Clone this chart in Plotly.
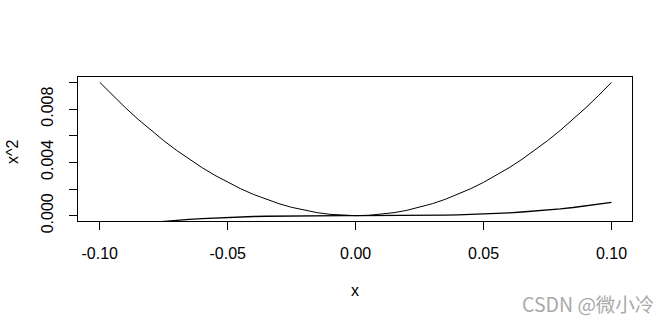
import plotly.graph_objects as go

x_vals = [-0.1, -0.095, -0.09, -0.085, -0.08, -0.075, -0.07, -0.065, -0.06, -0.055,
          -0.05, -0.045, -0.04, -0.035, -0.03, -0.025, -0.02, -0.015, -0.01, -0.005,
          0.0, 0.005, 0.01, 0.015, 0.02, 0.025, 0.03, 0.035, 0.04, 0.045,
          0.05, 0.055, 0.06, 0.065, 0.07, 0.075, 0.08, 0.085, 0.09, 0.095, 0.1]
sq_vals = [0.01, 0.009025, 0.0081, 0.007225, 0.0064, 0.005625, 0.0049, 0.004225, 0.0036, 0.003025,
           0.0025, 0.002025, 0.0016, 0.001225, 0.0009, 0.000625, 0.0004, 0.000225, 0.0001, 0.000025,
           0.0, 0.000025, 0.0001, 0.000225, 0.0004, 0.000625, 0.0009, 0.001225, 0.0016, 0.002025,
           0.0025, 0.003025, 0.0036, 0.004225, 0.0049, 0.005625, 0.0064, 0.007225, 0.0081, 0.009025, 0.01]
cube_vals = [-0.001, -0.000857375, -0.000729, -0.000614125, -0.000512, -0.000421875, -0.000343,
             -0.000274625, -0.000216, -0.000166375, -0.000125, -0.000091125, -0.000064, -0.000042875,
             -0.000027, -0.000015625, -0.000008, -0.000003375, -0.000001, -0.000000125,
             0.0, 0.000000125, 0.000001, 0.000003375, 0.000008, 0.000015625, 0.000027, 0.000042875,
             0.000064, 0.000091125, 0.000125, 0.000166375, 0.000216, 0.000274625, 0.000343,
             0.000421875, 0.000512, 0.000614125, 0.000729, 0.000857375, 0.001]

x_ticks = [-0.1, -0.05, 0.0, 0.05, 0.1]
x_tick_text = ["-0.10", "-0.05", "0.00", "0.05", "0.10"]
y_ticks = [0.0, 0.002, 0.004, 0.006, 0.008, 0.010]
y_tick_text = ["0.000", "", "0.004", "", "0.008", ""]

font_family = "Liberation Sans, Arial, sans-serif"

fig = go.Figure()
fig.add_trace(go.Scatter(x=x_vals, y=sq_vals, mode="lines",
                         line=dict(color="black", width=1), showlegend=False))
fig.add_trace(go.Scatter(x=x_vals, y=cube_vals, mode="lines",
                         line=dict(color="black", width=1.3), showlegend=False))

fig.update_layout(
    width=672, height=320,
    margin=dict(l=78, r=40, t=77, b=99),
    paper_bgcolor="white", plot_bgcolor="white",
    font=dict(family=font_family, size=16, color="black"),
    showlegend=False,
    xaxis=dict(range=[-0.1085, 0.108], tickvals=x_ticks, ticktext=x_tick_text,
               showgrid=False, zeroline=False, showline=True, linecolor="black",
               linewidth=1, mirror=True, ticks="outside", ticklen=8, tickcolor="black",
               tickwidth=1, ticklabelstandoff=10, fixedrange=True),
    yaxis=dict(range=[-0.0004, 0.0104], tickvals=y_ticks, ticktext=y_tick_text,
               showgrid=False, zeroline=False, showline=True, linecolor="black",
               linewidth=1, mirror=True, ticks="outside", ticklen=8, tickcolor="black",
               tickwidth=1, tickangle=-90, ticklabelstandoff=10, fixedrange=True),
    annotations=[
        dict(text="x", xref="paper", yref="paper", x=0.5, y=-0.48, xanchor="center",
             yanchor="middle", showarrow=False, font=dict(size=16, family=font_family)),
        dict(text="x^2", xref="paper", yref="paper", x=-0.117, y=0.48, xanchor="center",
             yanchor="middle", textangle=-90, showarrow=False,
             font=dict(size=16, family=font_family)),
        dict(text="CSDN @微小冷", xref="paper", yref="paper", x=1.043, y=-0.57,
             xanchor="right", yanchor="middle", showarrow=False,
             font=dict(size=19.5, family="Noto Sans CJK SC, Noto Sans, sans-serif", color="#aaaaaa")),
    ],
)

fig.write_html("out.html")
